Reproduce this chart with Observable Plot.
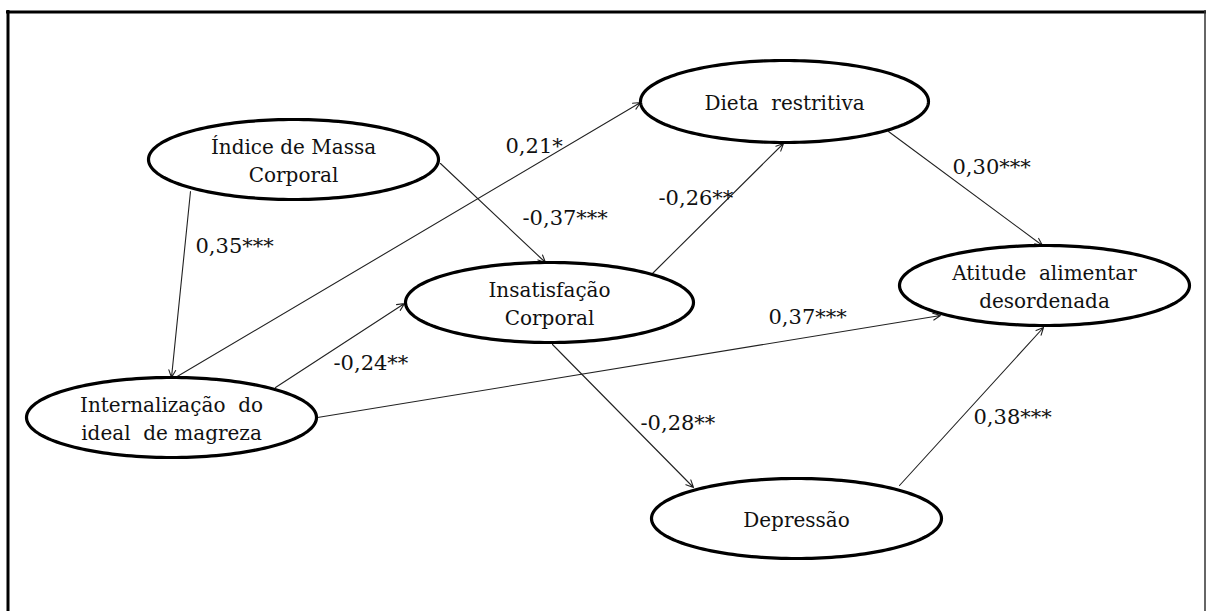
<!DOCTYPE html>
<html>
<head>
<meta charset="utf-8">
<script src="https://cdn.jsdelivr.net/npm/d3@7"></script>
<script src="https://cdn.jsdelivr.net/npm/@observablehq/plot@0.6"></script>
<style>
  html, body { margin: 0; padding: 0; background: #fff; }
  #chart svg { display: block; }
</style>
</head>
<body>
<div id="chart"></div>
<script>
// Node (latent/observed variable) names, centres and semi-axes in diagram units
const nodeNames = ["Índice de Massa\nCorporal", "Dieta  restritiva", "Insatisfação\nCorporal",
                   "Atitude  alimentar\ndesordenada", "Internalização  do\nideal  de magreza", "Depressão"];
const nodeX  = [293, 784, 549, 1044, 171, 796];
const nodeY  = [159, 101, 302, 285, 417, 518];
const nodeRX = [145, 144, 144, 145, 145, 145];
const nodeRY = [40, 41, 40, 40, 40, 40];

// Paths (start / end points of each arrow) and their coefficients
const pathFrom = ["IMC", "Internalização", "IMC", "Insatisfação", "Dieta", "Internalização", "Internalização", "Insatisfação", "Depressão"];
const pathTo   = ["Internalização", "Dieta", "Insatisfação", "Dieta", "Atitude", "Insatisfação", "Atitude", "Depressão", "Atitude"];
const pathX1 = [190, 175, 440, 652, 888, 275, 317, 552, 899];
const pathY1 = [191, 377, 163, 273, 131, 387, 417, 344, 485];
const pathX2 = [171, 640, 545, 783, 1042, 404, 940, 693, 1043];
const pathY2 = [377, 102, 262, 143, 245, 303, 315, 487, 327];
const coefLabels = ["0,35***", "0,21*", "-0,37***", "-0,26**", "0,30***", "-0,24**", "0,37***", "-0,28**", "0,38***"];
const coefX = [195, 505, 522, 658, 952, 333, 768, 640, 973];
const coefY = [246, 146, 218, 198, 167, 363, 317, 423, 417];

const nodes = nodeNames.map((name, i) => ({name, x: nodeX[i], y: nodeY[i], rx: nodeRX[i], ry: nodeRY[i]}));
const paths = pathFrom.map((f, i) => ({from: f, to: pathTo[i], x1: pathX1[i], y1: pathY1[i], x2: pathX2[i], y2: pathY2[i]}));
const coefs = coefLabels.map((t, i) => ({text: t, x: coefX[i], y: coefY[i]}));

// ellipse outlines
const outline = [];
nodes.forEach(n => {
  for (let k = 0; k <= 180; k++) {
    const a = (k / 180) * 2 * Math.PI;
    outline.push({name: n.name, x: n.x + n.rx * Math.cos(a), y: n.y + n.ry * Math.sin(a)});
  }
});

const W = 1206, H = 611;
const font = "DejaVu Serif";

const chart = Plot.plot({
  width: W, height: H,
  margin: 0,
  x: {domain: [0, W], range: [0, W], axis: null},
  y: {domain: [0, H], range: [0, H], axis: null},
  style: {background: "#fff"},
  marks: [
    Plot.ruleX([7.5], {y1: 10, y2: H, stroke: "#000", strokeWidth: 3}),
    Plot.ruleY([11.5], {x1: 6, x2: W, stroke: "#000", strokeWidth: 3}),
    Plot.ruleX([1204.5], {y1: 10, y2: H, stroke: "#333", strokeWidth: 1.5}),
    Plot.arrow(paths, {x1: "x1", y1: "y1", x2: "x2", y2: "y2", stroke: "#222", strokeWidth: 1.1, headLength: 11, headAngle: 50}),
    Plot.line(outline, {x: "x", y: "y", z: "name", stroke: "#000", strokeWidth: 3.2, curve: "linear"}),
    Plot.text(nodes, {x: "x", y: "y", text: "name", fontSize: 20, lineHeight: 1.4, fill: "#111", fontFamily: font, className: "nodelab"}),
    Plot.text(coefs, {x: "x", y: "y", text: "text", fontSize: 21, textAnchor: "start", fill: "#111", fontFamily: font, className: "coeflab"})
  ]
});
chart.querySelectorAll(".nodelab text, .nodelab tspan, .coeflab text, .coeflab tspan").forEach(el => el.setAttribute("font-family", font));
document.getElementById("chart").appendChild(chart);
</script>
</body>
</html>
